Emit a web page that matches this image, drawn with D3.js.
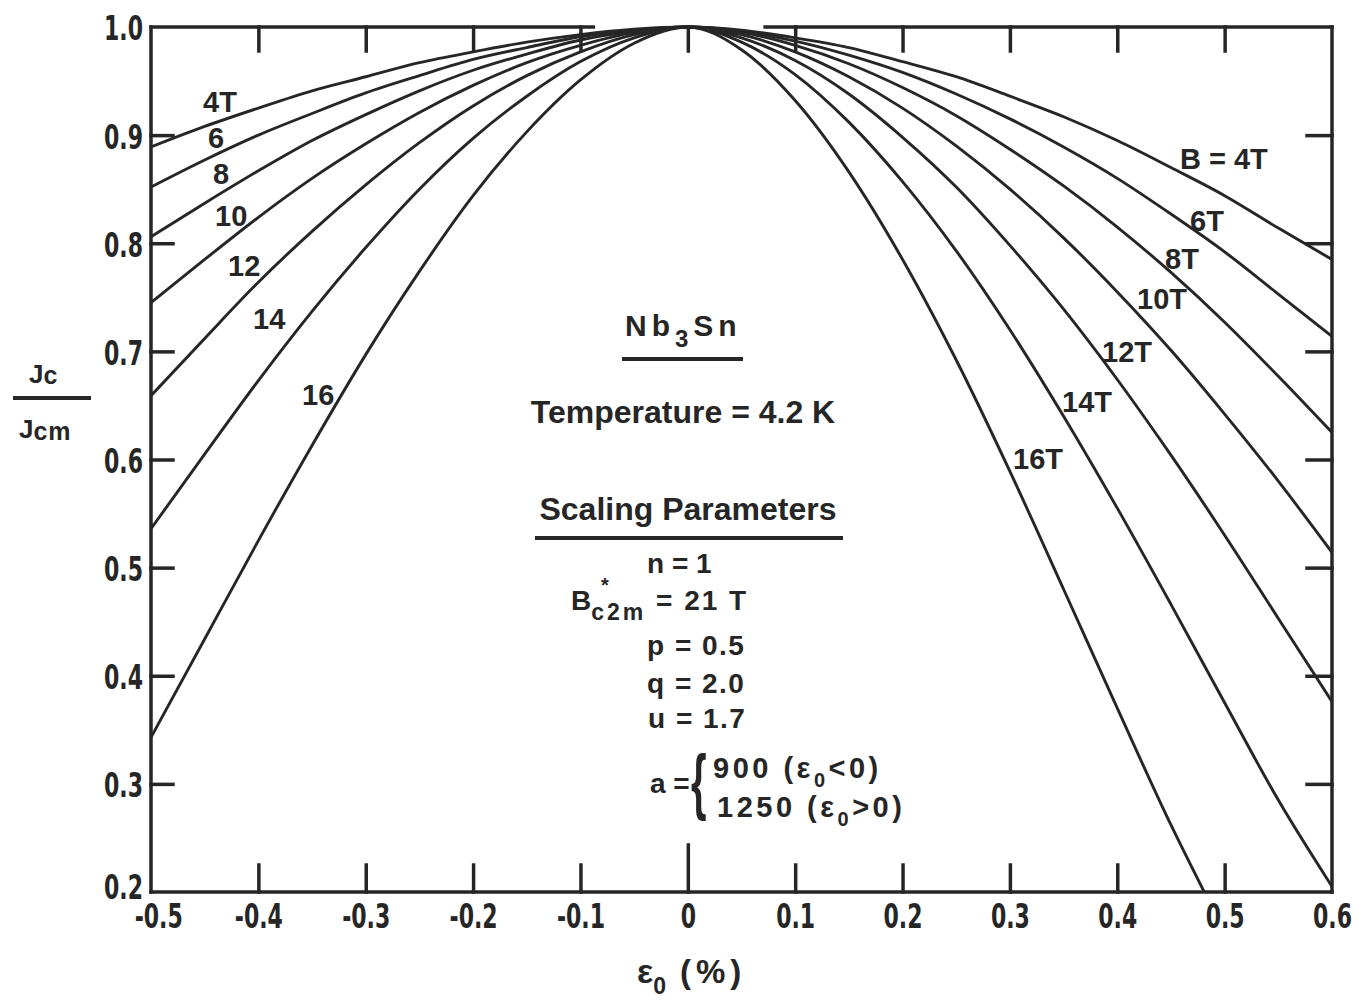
<!DOCTYPE html>
<html>
<head>
<meta charset="utf-8">
<script src="https://cdn.jsdelivr.net/npm/d3@7"></script>
<style>
  body { margin: 0; background: #fff; }
  svg { display: block; }
  .frame, .axis .tick line { stroke: #262626; stroke-width: 3.5; stroke-linecap: square; }
  .curve { fill: none; stroke: #262626; stroke-width: 2.9; }
  .axis text { font-family: "DejaVu Sans Condensed", "DejaVu Sans", sans-serif;
               font-weight: bold; font-size: 34px; fill: #262626; }
  .note { font-family: "Liberation Sans", Arial, sans-serif; font-weight: bold; fill: #262626; }
  .rule { stroke: #262626; stroke-width: 4; }
</style>
</head>
<body>
<div class="graph"></div>
<script>
var strain = [-0.5, -0.45, -0.4, -0.35, -0.3, -0.25, -0.2, -0.15, -0.1, -0.05, 0,
              0.05, 0.1, 0.15, 0.2, 0.25, 0.3, 0.35, 0.4, 0.45, 0.5, 0.55, 0.6];
var strain16 = [-0.5, -0.45, -0.4, -0.35, -0.3, -0.25, -0.2, -0.15, -0.1, -0.05, 0,
                0.05, 0.1, 0.15, 0.2, 0.25, 0.3, 0.35, 0.4, 0.45, 0.481];

// Jc / Jcm for each field
var j4  = [0.889, 0.908, 0.925, 0.941, 0.954, 0.967, 0.977, 0.986, 0.993, 0.998, 1.0,
           0.997, 0.990, 0.981, 0.968, 0.954, 0.936, 0.917, 0.895, 0.870, 0.844, 0.814, 0.785];
var j6  = [0.852, 0.877, 0.900, 0.920, 0.939, 0.955, 0.970, 0.981, 0.991, 0.997, 1.0,
           0.996, 0.987, 0.974, 0.958, 0.938, 0.915, 0.889, 0.860, 0.827, 0.792, 0.753, 0.714];
var j8  = [0.806, 0.837, 0.867, 0.895, 0.919, 0.941, 0.960, 0.975, 0.988, 0.996, 1.0,
           0.995, 0.983, 0.966, 0.944, 0.918, 0.887, 0.853, 0.815, 0.773, 0.727, 0.677, 0.625];
var j10 = [0.745, 0.785, 0.824, 0.860, 0.892, 0.921, 0.946, 0.967, 0.983, 0.995, 1.0,
           0.993, 0.977, 0.954, 0.925, 0.890, 0.850, 0.805, 0.755, 0.701, 0.642, 0.580, 0.514];
var j12 = [0.659, 0.712, 0.764, 0.811, 0.854, 0.893, 0.927, 0.955, 0.977, 0.993, 1.0,
           0.990, 0.969, 0.938, 0.898, 0.852, 0.798, 0.739, 0.674, 0.604, 0.530, 0.453, 0.376];
var j14 = [0.536, 0.605, 0.673, 0.737, 0.796, 0.850, 0.897, 0.936, 0.968, 0.990, 1.0,
           0.986, 0.956, 0.912, 0.857, 0.793, 0.720, 0.640, 0.555, 0.466, 0.375, 0.285, 0.205];
var j16 = [0.343, 0.434, 0.525, 0.613, 0.697, 0.774, 0.844, 0.903, 0.951, 0.985, 1.0,
           0.979, 0.932, 0.866, 0.785, 0.692, 0.589, 0.480, 0.370, 0.262, 0.200];

var xTicks = [-0.5, -0.4, -0.3, -0.2, -0.1, 0, 0.1, 0.2, 0.3, 0.4, 0.5, 0.6];
var yTicks = [0.2, 0.3, 0.4, 0.5, 0.6, 0.7, 0.8, 0.9, 1.0];

var series = [
  {strain: strain, jc: j4},
  {strain: strain, jc: j6},
  {strain: strain, jc: j8},
  {strain: strain, jc: j10},
  {strain: strain, jc: j12},
  {strain: strain, jc: j14},
  {strain: strain16, jc: j16}
];

var config = {
  svg: { width: 1359, height: 1005 },
  plot: { left: 151, right: 1332, top: 27, bottom: 892 },
  squeeze: 0.72
};

// SVG
var svg = d3.select('.graph')
  .append('svg')
  .attr('width', config.svg.width)
  .attr('height', config.svg.height);

var x = d3.scaleLinear().domain([-0.5, 0.6]).range([config.plot.left, config.plot.right]);
var y = d3.scaleLinear().domain([0.2, 1.0]).range([config.plot.bottom, config.plot.top]);

svg.append('clipPath')
  .attr('id', 'plot-clip')
  .append('rect')
  .attr('x', config.plot.left)
  .attr('y', config.plot.top - 3)
  .attr('width', config.plot.right - config.plot.left)
  .attr('height', config.plot.bottom - config.plot.top + 3);

// Curves
var line = d3.line()
  .x((d) =>{return x(d[0]);})
  .y((d) =>{return y(d[1]);})
  .curve(d3.curveMonotoneX);

svg.append('g')
  .attr('clip-path', 'url(#plot-clip)')
  .selectAll('.curve')
  .data(series)
  .enter()
  .append('path')
  .attr('class', 'curve')
  .attr('d', (d) =>{return line(d3.zip(d.strain, d.jc));});

// Axes
var fmt = (d) =>{ return d === 0 ? '0' : d3.format('.1f')(d).replace('\u2212', '-'); };

var xAxis = svg.append('g')
  .attr('class', 'axis')
  .attr('transform', 'translate(0,' + config.plot.bottom + ')')
  .call(d3.axisBottom(x).tickValues(xTicks).tickSize(-27).tickPadding(12).tickFormat(fmt));
xAxis.selectAll('.tick line').filter((d) =>{return d === -0.5 || d === 0.6;}).remove();
xAxis.selectAll('.tick line').filter((d) =>{return d === 0;}).attr('y2', -47);
xAxis.selectAll('.tick text')
  .attr('transform', 'scale(' + config.squeeze + ',1)')
  .attr('dx', (d) =>{return d === -0.5 ? 10 : 0;});

var yAxis = svg.append('g')
  .attr('class', 'axis')
  .attr('transform', 'translate(' + config.plot.left + ',0)')
  .call(d3.axisLeft(y).tickValues(yTicks).tickSize(-22).tickPadding(7).tickFormat(d3.format('.1f')));
yAxis.selectAll('.tick line').filter((d) =>{return d === 0.2 || d === 1.0;}).remove();
yAxis.selectAll('.tick text')
  .attr('x', -8 / config.squeeze)
  .attr('dy', (d) =>{return d === 0.2 ? '0.2em' : '0.38em';})
  .attr('transform', 'scale(' + config.squeeze + ',1)');

var rightAxis = svg.append('g')
  .attr('class', 'axis')
  .attr('transform', 'translate(' + config.plot.right + ',0)')
  .call(d3.axisRight(y).tickValues(yTicks.slice(1, -1)).tickSize(-25).tickFormat(''));

var topAxis = svg.append('g')
  .attr('class', 'axis')
  .attr('transform', 'translate(0,' + config.plot.top + ')')
  .call(d3.axisTop(x).tickValues(xTicks.slice(1, -1)).tickSize(-24).tickFormat(''));

[xAxis, yAxis, rightAxis, topAxis].forEach((a) =>{
  a.attr('font-size', null).attr('font-family', null);
  a.select('.domain').remove();
});

// Frame (top edge is open where the curves peak)
var frame = [
  [x(-0.5), y(1.0), x(-0.5), y(0.2)],
  [x(-0.5), y(0.2), x(0.6), y(0.2)],
  [x(0.6), y(1.0), x(0.6), y(0.2)],
  [x(-0.5), y(1.0), x(-0.088), y(1.0)],
  [x(0.072), y(1.0), x(0.6), y(1.0)]
];
svg.selectAll('.frame')
  .data(frame)
  .enter()
  .append('line')
  .attr('class', 'frame')
  .attr('x1', (d) =>{return d[0];})
  .attr('y1', (d) =>{return d[1];})
  .attr('x2', (d) =>{return d[2];})
  .attr('y2', (d) =>{return d[3];});

// Curve labels
var curveLabels = [
  {t: '4T', x: 203, y: 112}, {t: '6', x: 208, y: 148}, {t: '8', x: 213, y: 184},
  {t: '10', x: 215, y: 226}, {t: '12', x: 228, y: 276}, {t: '14', x: 253, y: 329},
  {t: '16', x: 302, y: 405},
  {t: 'B = 4T', x: 1180, y: 169}, {t: '6T', x: 1190, y: 231}, {t: '8T', x: 1165, y: 269},
  {t: '10T', x: 1137, y: 309}, {t: '12T', x: 1102, y: 362}, {t: '14T', x: 1062, y: 412},
  {t: '16T', x: 1013, y: 469}
];
svg.selectAll('.curve-label')
  .data(curveLabels)
  .enter()
  .append('text')
  .attr('class', 'note curve-label')
  .attr('x', (d) =>{return d.x;})
  .attr('y', (d) =>{return d.y;})
  .attr('font-size', 29)
  .text((d) =>{return d.t;});

// Helper for text with subscripts: parts = [[text, dy, size, spacing], ...]
function richText(xPos, yPos, size, parts, anchor){
  var t = svg.append('text')
    .attr('class', 'note')
    .attr('x', xPos)
    .attr('y', yPos)
    .attr('font-size', size)
    .attr('text-anchor', anchor || 'start');
  parts.forEach((p) =>{
    var s = t.append('tspan').attr('dy', p[1]).attr('font-size', p[2] || size).text(p[0]);
    if(p[3]) s.attr('letter-spacing', p[3]);
  });
  return t;
}

// Title block
richText(625, 336, 30, [['Nb', 0, 30, 5], ['3', 11, 24, 5], ['Sn', -11, 30, 5]]);
svg.append('line').attr('class', 'rule').attr('x1', 622).attr('x2', 743).attr('y1', 359).attr('y2', 359);

richText(683, 423, 32, [['Temperature = 4.2 K', 0]], 'middle');

richText(688, 520, 32, [['Scaling Parameters', 0]], 'middle');
svg.append('line').attr('class', 'rule').attr('x1', 535).attr('x2', 843).attr('y1', 538).attr('y2', 538);

richText(647, 573, 28, [['n = 1', 0]]);
richText(571, 610, 28, [['B', 0], ['c2m', 10, 23, 3], [' = 21 T', -10, 28, 2]]);
richText(601, 592, 20, [['*', 0]]);
richText(647, 655, 28, [['p = 0.5', 0, 28, 1.5]]);
richText(647, 693, 28, [['q = 2.0', 0, 28, 1.5]]);
richText(648, 728, 28, [['u = 1.7', 0, 28, 1.5]]);
richText(650, 793, 28, [['a =', 0]]);

svg.append('text')
  .attr('class', 'note')
  .attr('font-weight', 'normal')
  .attr('font-size', 40)
  .attr('transform', 'translate(691,806) scale(1,1.8)')
  .text('{');

richText(713, 778, 29, [['900 (\u03b5', 0, 29, 3.5], ['0', 9, 20, 3.5], ['<0)', -9, 29, 3.5]]);
richText(717, 817, 29, [['1250 (\u03b5', 0, 29, 3.5], ['0', 9, 20, 3.5], ['>0)', -9, 29, 3.5]]);

// Y axis title
richText(29, 383, 26, [['J', 0], ['c', 1, 25]]);
svg.append('line').attr('class', 'rule').attr('x1', 13).attr('x2', 91).attr('y1', 398).attr('y2', 398);
richText(19, 438, 26, [['J', 0], ['cm', 2, 25, 1]]);

// X axis title
richText(637, 983, 34, [['\u03b5', 0], ['0', 11, 23], ['(%)', -11, 33, 5]])
  .select('tspan:last-child').attr('dx', 14);
</script>
</body>
</html>
